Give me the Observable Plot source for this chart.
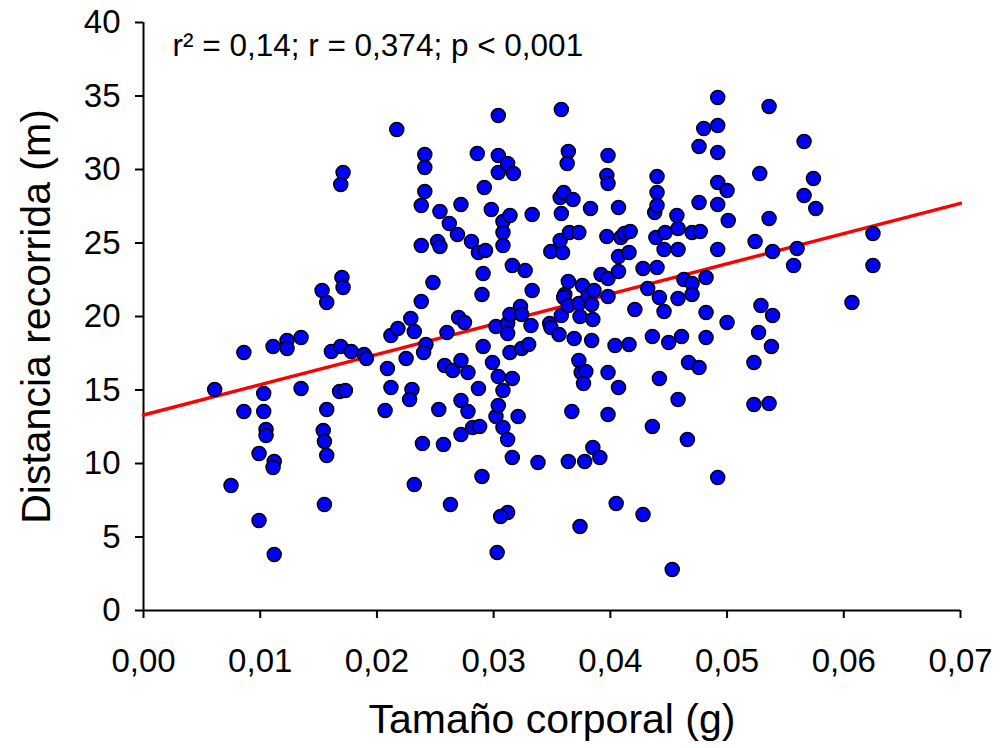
<!DOCTYPE html>
<html>
<head>
<meta charset="utf-8">
<script src="https://cdn.jsdelivr.net/npm/d3@7"></script>
<script src="https://cdn.jsdelivr.net/npm/@observablehq/plot@0.6"></script>
<style>
  html, body { margin: 0; padding: 0; background: #fff; }
  #chart svg { display: block; }
</style>
</head>
<body>
<div id="chart"></div>
<script>
// Body size (g) of each individual
const bodySize = [
  0.0061,0.0075,0.0086,0.0086,0.0099,0.0099,0.0103,0.0103,0.0105,0.0105,
  0.0111,0.0112,0.0111,0.0112,0.0123,0.0123,0.0135,0.0135,0.0153,0.0157,
  0.0161,0.0157,0.0154,0.0155,0.0157,0.0155,0.0170,0.0171,0.0171,0.0169,
  0.0169,0.0168,0.0173,0.0178,0.0189,0.0191,0.0209,0.0207,0.0212,0.0212,
  0.0218,0.0217,0.0225,0.0229,0.0230,0.0228,0.0232,0.0232,0.0238,0.0238,
  0.0238,0.0241,0.0241,0.0241,0.0239,0.0242,0.0240,0.0248,0.0252,0.0254,
  0.0254,0.0253,0.0257,0.0258,0.0260,0.0262,0.0265,0.0263,0.0269,0.0270,
  0.0275,0.0272,0.0272,0.0272,0.0272,0.0278,0.0278,0.0281,0.0282,0.0288,
  0.0286,0.0287,0.0293,0.0291,0.0290,0.0292,0.0291,0.0287,0.0290,0.0298,
  0.0299,0.0302,0.0304,0.0302,0.0304,0.0303,0.0304,0.0304,0.0304,0.0308,
  0.0308,0.0308,0.0308,0.0308,0.0312,0.0317,0.0314,0.0312,0.0312,0.0314,
  0.0314,0.0316,0.0316,0.0316,0.0312,0.0312,0.0306,0.0321,0.0323,0.0324,
  0.0324,0.0327,0.0330,0.0332,0.0333,0.0333,0.0338,0.0349,0.0348,0.0349,
  0.0356,0.0358,0.0359,0.0358,0.0357,0.0360,0.0357,0.0358,0.0361,0.0360,
  0.0364,0.0363,0.0368,0.0365,0.0373,0.0364,0.0364,0.0364,0.0367,0.0369,
  0.0373,0.0374,0.0373,0.0374,0.0376,0.0375,0.0379,0.0377,0.0378,0.0381,
  0.0383,0.0384,0.0385,0.0384,0.0386,0.0385,0.0391,0.0392,0.0398,0.0398,
  0.0397,0.0398,0.0398,0.0397,0.0398,0.0398,0.0407,0.0407,0.0409,0.0412,
  0.0417,0.0416,0.0407,0.0404,0.0416,0.0407,0.0405,0.0421,0.0428,0.0428,
  0.0432,0.0436,0.0436,0.0438,0.0440,0.0440,0.0440,0.0440,0.0439,0.0442,
  0.0442,0.0446,0.0447,0.0446,0.0450,0.0453,0.0457,0.0458,0.0458,0.0458,
  0.0458,0.0461,0.0463,0.0466,0.0467,0.0470,0.0470,0.0470,0.0476,0.0477,
  0.0476,0.0476,0.0480,0.0482,0.0482,0.0482,0.0492,0.0492,0.0492,0.0492,
  0.0492,0.0492,0.0492,0.0500,0.0501,0.0500,0.0536,0.0566,0.0528,0.0574,
  0.0566,0.0576,0.0536,0.0524,0.0539,0.0560,0.0557,0.0625,0.0625,0.0607,
  0.0529,0.0539,0.0527,0.0538,0.0523,0.0523,0.0536
];
// Distance travelled (m), same order
const distance = [
  15.03,8.50,17.55,13.54,10.68,6.12,14.76,13.54,12.31,11.90,
  17.96,10.14,9.73,3.81,18.37,17.82,18.57,15.10,21.77,20.95,
  17.62,13.67,12.24,11.50,10.54,7.21,22.65,21.97,29.80,28.98,
  17.96,14.90,14.97,17.62,17.41,17.14,16.46,13.61,18.71,15.17,
  19.18,32.72,17.14,19.86,15.03,14.35,18.98,8.57,21.02,27.55,
  24.83,31.02,30.14,28.50,11.36,18.10,17.55,22.31,25.10,24.76,
  27.14,13.67,11.29,16.67,18.91,26.33,16.33,7.21,25.58,19.93,
  19.59,27.62,17.01,14.29,11.97,16.19,13.54,25.10,12.45,12.52,
  31.09,24.35,24.49,22.93,21.50,28.78,17.96,15.10,9.12,27.28,
  16.87,19.32,15.92,13.20,13.95,3.95,33.67,30.95,29.80,26.46,
  25.71,24.83,12.45,14.97,30.41,29.73,26.87,19.52,18.84,20.14,
  17.55,23.47,15.78,10.41,11.63,6.67,6.39,13.20,20.68,20.14,
  17.82,23.13,18.10,19.39,21.77,26.94,10.07,24.42,19.52,19.25,
  18.78,34.08,24.35,27.01,28.10,28.44,25.17,20.07,21.50,21.29,
  31.22,30.41,27.96,25.71,25.71,22.38,20.75,10.14,13.54,18.50,
  20.88,20.00,17.01,5.71,22.11,16.19,16.26,15.44,10.14,21.43,
  27.35,20.82,19.80,18.37,21.77,11.09,10.41,22.86,22.59,21.36,
  29.59,29.05,30.95,25.44,16.19,13.33,27.41,24.08,25.37,25.65,
  25.78,24.35,23.06,18.03,18.10,15.17,7.28,20.48,23.27,6.53,
  21.90,18.64,12.52,27.07,27.55,28.44,29.52,23.33,25.37,21.29,
  15.78,24.56,25.71,20.34,18.23,2.79,26.87,25.99,24.56,21.22,
  14.35,18.64,22.52,11.63,16.87,25.71,22.24,21.50,27.76,25.78,
  31.56,16.53,32.79,22.65,20.27,18.57,34.90,32.99,31.16,29.12,
  27.62,24.56,9.05,28.57,26.53,19.59,34.29,31.90,29.73,29.39,
  28.23,27.35,26.67,25.10,24.42,24.63,23.47,25.65,23.47,20.95,
  20.75,20.07,18.91,17.96,16.87,14.01,14.08
];
// Fitted regression line (endpoints)
const fitX = [0, 0.07];
const fitY = [13.3, 27.7];
// Axis ticks
const xTicks = [0, 0.01, 0.02, 0.03, 0.04, 0.05, 0.06, 0.07];
const yTicks = [0, 5, 10, 15, 20, 25, 30, 35, 40];
const xLabel = "Tamaño corporal (g)";
const yLabel = "Distancia recorrida (m)";
const statsText = "r² = 0,14; r = 0,374; p < 0,001";

const points = bodySize.map((x, i) => ({x, y: distance[i]}));
const fit = fitX.map((x, i) => ({x, y: fitY[i]}));

const chart = Plot.plot({
  width: 1000,
  height: 748,
  marginLeft: 143,
  marginRight: 40,
  marginTop: 22,
  marginBottom: 138,
  style: {fontFamily: "'Liberation Sans', Arial, sans-serif", background: "#fff", color: "#000"},
  x: {domain: [0, 0.07]},
  y: {domain: [0, 40]},
  marks: [
    Plot.axisX({ticks: xTicks, tickFormat: d => d.toFixed(2).replace(".", ","), tickSize: 8, tickPadding: 30, fontSize: 33, strokeWidth: 2, label: null}),
    Plot.axisY({ticks: yTicks, tickFormat: d => String(d), tickSize: 8, tickPadding: 15, fontSize: 33, strokeWidth: 2, label: null}),
    Plot.ruleX([0], {stroke: "#000", strokeWidth: 2}),
    Plot.ruleY([0], {stroke: "#000", strokeWidth: 2}),
    Plot.line(fit, {x: "x", y: "y", stroke: "#ff0000", strokeWidth: 3.4}),
    Plot.dot(points, {x: "x", y: "y", r: 7, fill: "#0000ff", stroke: "#000", strokeWidth: 1.5}),
    Plot.text([xLabel], {frameAnchor: "bottom", dy: 109, textAnchor: "middle", lineAnchor: "middle", fontSize: 41, fill: "#000"}),
    Plot.text([yLabel], {frameAnchor: "left", dx: -107, rotate: -90, textAnchor: "middle", lineAnchor: "middle", fontSize: 41, fill: "#000"}),
    Plot.text([statsText], {frameAnchor: "top-left", dx: 29, dy: 23, textAnchor: "start", lineAnchor: "middle", fontSize: 31.5, fill: "#000"})
  ]
});
document.getElementById("chart").appendChild(chart);
</script>
</body>
</html>
